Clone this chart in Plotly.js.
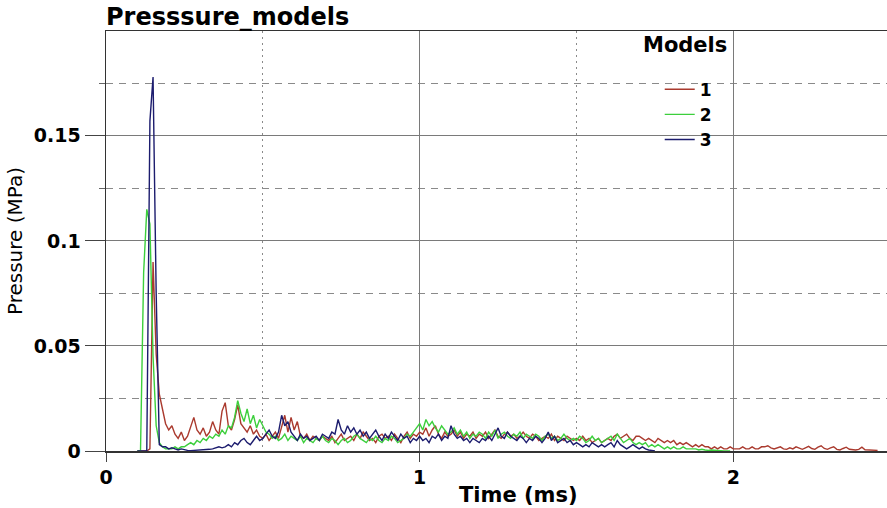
<!DOCTYPE html>
<html>
<head>
<meta charset="utf-8">
<script src="https://cdn.plot.ly/plotly-3.0.1.min.js"></script>
<style>
  html, body { margin: 0; padding: 0; background: #ffffff; }
  #chart { width: 887px; height: 508px; }
</style>
</head>
<body>
<div id="chart"></div>
<script>
// Sampling of the pressure records (ms)
const timeStart = 0.10;
const timeStep = 0.01;

// Series names
const modelNames = ['1', '2', '3'];

// Pressure (MPa), model 1
const pressure1 = [
  0, 0, 0, 0, 0.001, 0.090, 0.046, 0.027, 0.020, 0.013,
  0.010, 0.012, 0.008, 0.006, 0.009, 0.005, 0.007, 0.012, 0.016, 0.010,
  0.008, 0.011, 0.007, 0.009, 0.014, 0.010, 0.008, 0.019, 0.023, 0.012,
  0.010, 0.015, 0.022, 0.013, 0.011, 0.009, 0.012, 0.008, 0.010, 0.007,
  0.006, 0.008, 0.005, 0.007, 0.009, 0.006, 0.012, 0.017, 0.009, 0.016,
  0.010, 0.014, 0.007, 0.006, 0.008, 0.005, 0.007, 0.006, 0.005, 0.007,
  0.006, 0.005, 0.007, 0.004, 0.006, 0.008, 0.005, 0.006, 0.007, 0.005,
  0.008, 0.006, 0.009, 0.007, 0.005, 0.006, 0.004, 0.007, 0.008, 0.006,
  0.007, 0.005, 0.008, 0.006, 0.004, 0.007, 0.009, 0.006, 0.008, 0.007,
  0.009, 0.008, 0.011, 0.007, 0.010, 0.012, 0.008, 0.006, 0.009, 0.007,
  0.008, 0.010, 0.007, 0.009, 0.006, 0.008, 0.007, 0.009, 0.006, 0.008,
  0.007, 0.009, 0.006, 0.008, 0.010, 0.007, 0.006, 0.008, 0.009, 0.007,
  0.008, 0.006, 0.007, 0.009, 0.007, 0.006, 0.008, 0.007, 0.005, 0.006,
  0.007, 0.006, 0.008, 0.005, 0.007, 0.006, 0.005, 0.007, 0.006, 0.005,
  0.006, 0.005, 0.007, 0.005, 0.006, 0.004, 0.005, 0.006, 0.004, 0.005,
  0.006, 0.005, 0.007, 0.008, 0.006, 0.007, 0.008, 0.006, 0.005, 0.007,
  0.007, 0.006, 0.005, 0.006, 0.005, 0.004, 0.006, 0.005, 0.004, 0.005,
  0.004, 0.005, 0.003, 0.004, 0.003, 0.004, 0.003, 0.002, 0.003, 0.002,
  0.003, 0.002, 0.002, 0.001, 0.002, 0.001, 0.002, 0.001, 0.001, 0.002,
  0.001, 0.001, 0.001, 0.002, 0.001, 0.001, 0.002, 0.001, 0.001, 0.002,
  0.002, 0.0025, 0.0015, 0.001, 0.0015, 0.002, 0.001, 0.0008, 0.0015, 0.001,
  0.002, 0.0012, 0.0008, 0.0015, 0.0022, 0.0012, 0.0008, 0.0018, 0.0025, 0.0012,
  0.0008, 0.0015, 0.002, 0.0008, 0.0005, 0.0012, 0.0018, 0.0008, 0.0006, 0.0005,
  0.0008, 0.0018, 0.0006, 0.0005, 0.0004, 0.0004, 0.0003
];

// Pressure (MPa), model 2
const pressure2 = [
  0, 0, 0.085, 0.115, 0.108, 0.045, 0.012, 0.004, 0.002, 0.001,
  0.001, 0.001, 0.002, 0.001, 0.002, 0.002, 0.003, 0.004, 0.003, 0.005,
  0.004, 0.006, 0.005, 0.007, 0.006, 0.008, 0.007, 0.010, 0.008, 0.012,
  0.011, 0.016, 0.024, 0.018, 0.014, 0.020, 0.013, 0.017, 0.011, 0.015,
  0.012, 0.009, 0.008, 0.006, 0.007, 0.005, 0.006, 0.008, 0.005, 0.007,
  0.006, 0.005, 0.007, 0.004, 0.006, 0.005, 0.004, 0.006, 0.005, 0.007,
  0.005, 0.004, 0.006, 0.005, 0.003, 0.005, 0.006, 0.004, 0.005, 0.007,
  0.008, 0.006, 0.005, 0.004, 0.006, 0.005, 0.007, 0.005, 0.004, 0.006,
  0.005, 0.007, 0.006, 0.004, 0.005, 0.006, 0.008, 0.007, 0.009, 0.011,
  0.013, 0.010, 0.015, 0.012, 0.014, 0.011, 0.009, 0.012, 0.010, 0.008,
  0.009, 0.011, 0.008, 0.010, 0.007, 0.009, 0.006, 0.008, 0.007, 0.009,
  0.008, 0.006, 0.009, 0.007, 0.010, 0.006, 0.008, 0.009, 0.007, 0.006,
  0.008, 0.007, 0.009, 0.006, 0.008, 0.007, 0.006, 0.008, 0.007, 0.005,
  0.007, 0.008, 0.006, 0.007, 0.005, 0.006, 0.008, 0.006, 0.005, 0.006,
  0.005, 0.007, 0.006, 0.004, 0.005, 0.007, 0.005, 0.006, 0.004, 0.005,
  0.006, 0.007, 0.005, 0.008, 0.006, 0.004, 0.005, 0.006, 0.004, 0.003,
  0.004, 0.003, 0.004, 0.002, 0.003, 0.002, 0.003, 0.002, 0.001, 0.002,
  0.001, 0.002, 0.001, 0.001, 0.002, 0.001, 0.001, 0.0008, 0.001, 0.0005,
  0.0008, 0.0005, 0.0003, 0.0005, 0.0003, 0.0002, 0.0002, 0, 0, 0
];

// Pressure (MPa), model 3
const pressure3 = [
  0, 0, 0, 0, 0.157, 0.178, 0.075, 0.003, 0.002, 0.002,
  0.001, 0.0015, 0.001, 0.0005, 0.001, 0.0005, 0.0003, 0.0002, 0.0003, 0.0002,
  0.0002, 0.0003, 0.0005, 0.0008, 0.001, 0.0015, 0.002, 0.0015, 0.002, 0.003,
  0.002, 0.004, 0.003, 0.005, 0.006, 0.004, 0.003, 0.005, 0.007, 0.005,
  0.006, 0.008, 0.010, 0.007, 0.006, 0.009, 0.017, 0.012, 0.014, 0.009,
  0.007, 0.005, 0.008, 0.006, 0.007, 0.005, 0.006, 0.007, 0.005, 0.008,
  0.007, 0.006, 0.009, 0.008, 0.015, 0.010, 0.008, 0.012, 0.009, 0.011,
  0.008, 0.010, 0.007, 0.009, 0.006, 0.008, 0.010, 0.007, 0.005, 0.008,
  0.006, 0.009, 0.007, 0.005, 0.008, 0.006, 0.007, 0.004, 0.006, 0.005,
  0.007, 0.005, 0.006, 0.004, 0.007, 0.006, 0.008, 0.005, 0.007, 0.006,
  0.012, 0.008, 0.006, 0.007, 0.005, 0.006, 0.004, 0.006, 0.005, 0.004,
  0.006, 0.005, 0.007, 0.005, 0.008, 0.011, 0.007, 0.006, 0.009, 0.007,
  0.006, 0.005, 0.007, 0.006, 0.004, 0.006, 0.005, 0.007, 0.006, 0.004,
  0.006, 0.009, 0.005, 0.007, 0.004, 0.005, 0.006, 0.004, 0.005, 0.003,
  0.004, 0.003, 0.002, 0.003, 0.002, 0.004, 0.003, 0.002, 0.003, 0.002,
  0.003, 0.004, 0.002, 0.005, 0.003, 0.002, 0.001, 0.002, 0.003, 0.002,
  0.001, 0.002, 0.001, 0.0005, 0.0003, 0
];

const seriesValues = [pressure1, pressure2, pressure3];
const seriesColors = ['#aa3a2e', '#3ccf3c', '#1c1c6e'];

const traces = seriesValues.map((vals, i) => ({
  type: 'scatter',
  mode: 'lines',
  name: modelNames[i],
  x0: timeStart,
  dx: timeStep,
  y: vals,
  line: { color: seriesColors[i], width: 1.4 }
}));

const boldFont = { family: 'DejaVu Sans', size: 19, color: '#000000', weight: 'bold' };

// plot area in pixels, used to place the free-standing labels
const plotLeft = 106, plotWidth = 781, plotTop = 31, plotHeight = 420;

const layout = {
  width: 887,
  height: 508,
  margin: { l: plotLeft, r: 887 - plotLeft - plotWidth, t: plotTop, b: 508 - plotTop - plotHeight },
  paper_bgcolor: '#ffffff',
  plot_bgcolor: '#ffffff',
  title: {
    text: 'Presssure_models',
    font: { family: 'DejaVu Sans', size: 24, color: '#000000', weight: 'bold' },
    xref: 'paper', x: 0, xanchor: 'left',
    yref: 'container', y: 0.968, yanchor: 'middle'
  },
  xaxis: {
    range: [0, 2.49],
    dtick: 1,
    tick0: 0,
    ticks: 'outside',
    ticklen: 9,
    tickcolor: '#444444',
    tickfont: boldFont,
    showline: true,
    linecolor: '#333333',
    linewidth: 1.5,
    mirror: true,
    showgrid: true,
    gridcolor: '#7a7a7a',
    gridwidth: 1,
    zeroline: false,
    minor: {
      dtick: 0.5,
      showgrid: true,
      gridcolor: '#8a8a8a',
      griddash: '2px,4px',
      gridwidth: 1.2,
      ticks: ''
    }
  },
  yaxis: {
    range: [0, 0.1999],
    dtick: 0.05,
    tick0: 0,
    ticks: 'outside',
    ticklen: 20,
    tickcolor: '#444444',
    tickfont: boldFont,
    showline: true,
    linecolor: '#333333',
    linewidth: 1.5,
    showgrid: true,
    gridcolor: '#7a7a7a',
    gridwidth: 1,
    zeroline: false,
    minor: {
      dtick: 0.025,
      showgrid: true,
      gridcolor: '#8a8a8a',
      griddash: '7px,6px',
      gridwidth: 1,
      ticks: 'outside',
      ticklen: 6,
      tickcolor: '#666666'
    },
    title: {
      text: 'Pressure (MPa)',
      font: { family: 'DejaVu Sans', size: 20, color: '#000000' },
      standoff: 6
    }
  },
  showlegend: true,
  legend: {
    x: 0.709, xanchor: 'left',
    y: 0.903, yanchor: 'top',
    bgcolor: 'rgba(0,0,0,0)',
    borderwidth: 0,
    font: { family: 'DejaVu Sans', size: 17, color: '#000000', weight: 'bold' },
    tracegroupgap: 0
  },
  annotations: [
    {
      text: 'Models',
      xref: 'paper', yref: 'paper',
      x: (685 - plotLeft) / plotWidth, y: (plotTop + plotHeight - 45) / plotHeight,
      xanchor: 'center', yanchor: 'middle',
      showarrow: false,
      font: { family: 'DejaVu Sans', size: 21, color: '#000000', weight: 'bold' }
    },
    {
      text: 'Time (ms)',
      xref: 'paper', yref: 'paper',
      x: (518 - plotLeft) / plotWidth, y: -(495 - plotTop - plotHeight) / plotHeight,
      xanchor: 'center', yanchor: 'middle',
      showarrow: false,
      font: { family: 'DejaVu Sans', size: 21, color: '#000000', weight: 'bold' }
    }
  ]
};

Plotly.newPlot('chart', traces, layout, { displayModeBar: false, staticPlot: true });
</script>
</body>
</html>
